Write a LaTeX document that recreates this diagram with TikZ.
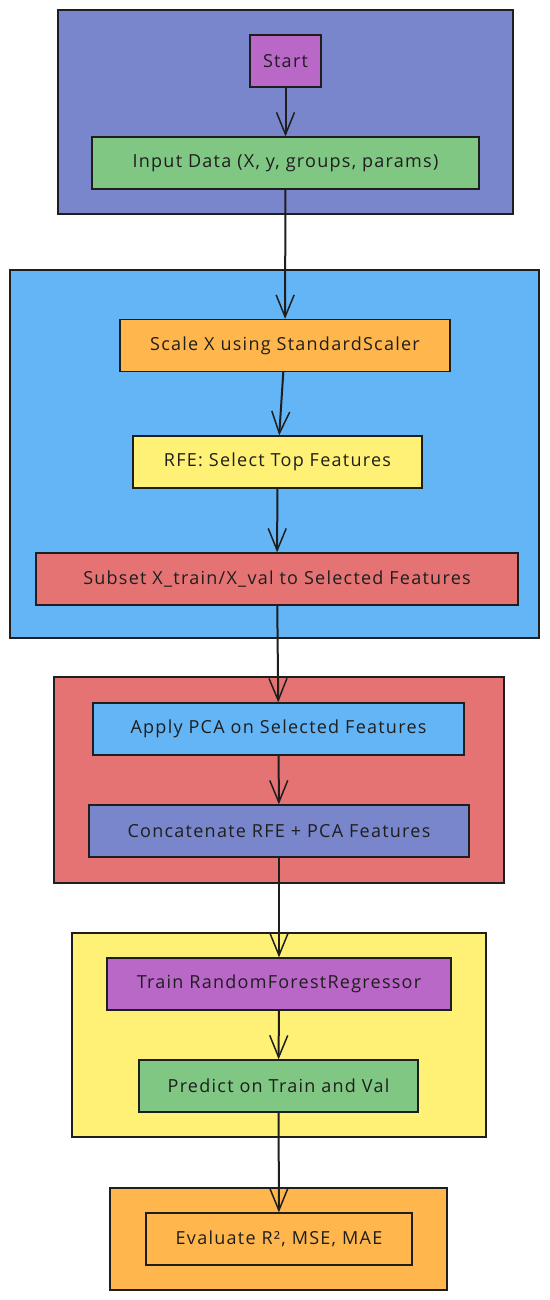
\documentclass[tikz,border=0pt]{standalone}
\usepackage{fontspec}
\setmainfont{Open Sans}
\definecolor{groupindigo}{HTML}{7986CB}
\definecolor{groupsky}{HTML}{64B5F6}
\definecolor{groupcoral}{HTML}{E57373}
\definecolor{grouplemon}{HTML}{FFF176}
\definecolor{grouporange}{HTML}{FFB74D}
\definecolor{stepviolet}{HTML}{BA68C8}
\definecolor{stepgreen}{HTML}{81C784}
\definecolor{inkdark}{HTML}{1E1E1E}
\usetikzlibrary{arrows.meta,positioning}
\tikzset{
    groupbox/.style={
        draw=inkdark,
        line width=1.3pt,
        inner sep=0pt
    },
    pipestep/.style={
        draw=inkdark,
        line width=1.3pt,
        minimum height=52pt,
        inner sep=0pt,
        align=center,
        text=inkdark,
        font=\fontsize{18}{21}\selectfont\addfontfeatures{LetterSpace=7}
    },
    pipearrow/.style={
        -{Straight Barb[length=22pt,width=18pt,line width=1.5pt]},
        draw=inkdark,
        line width=2pt
    }
}

\begin{document}
\begin{tikzpicture}[x=1pt,y=-1pt]
        \useasboundingbox (0,0) rectangle (549,1300);

        % stage groups
        \node[groupbox,fill=groupindigo,minimum width=455pt,minimum height=204pt]
            (inputGroup) at (285.5,112) {};
        \node[groupbox,fill=groupsky,minimum width=529pt,minimum height=368pt]
            (selectGroup) at (274.5,454) {};
        \node[groupbox,fill=groupcoral,minimum width=450pt,minimum height=206pt]
            (pcaGroup) at (279,780) {};
        \node[groupbox,fill=grouplemon,minimum width=414pt,minimum height=204pt]
            (modelGroup) at (279,1035) {};
        \node[groupbox,fill=grouporange,minimum width=337pt,minimum height=102pt]
            (evalGroup) at (278.5,1239) {};

        % steps
        \node[pipestep,fill=stepviolet,minimum width=71pt] (start) at (285.5,61) {Start};
        \node[pipestep,fill=stepgreen,minimum width=387pt] (inputData) at (285.5,163)
            {Input Data (X, y, groups, params)};
        \node[pipestep,fill=grouporange,minimum width=330pt] (scaleX) at (285,345.5)
            {Scale X using StandardScaler};
        \node[pipestep,fill=grouplemon,minimum width=289pt] (rfeSelect) at (277.5,462)
            {RFE: Select Top Features};
        \node[pipestep,fill=groupcoral,minimum width=482pt] (subsetX) at (277,579)
            {Subset X\_train/X\_val to Selected Features};
        \node[pipestep,fill=groupsky,minimum width=371pt] (applyPca) at (278.5,729)
            {Apply PCA on Selected Features};
        \node[pipestep,fill=groupindigo,minimum width=380pt] (concatFeat) at (279,831)
            {Concatenate RFE + PCA Features};
        \node[pipestep,fill=stepviolet,minimum width=344pt] (trainRf) at (279,984)
            {Train RandomForestRegressor};
        \node[pipestep,fill=stepgreen,minimum width=279pt] (predictSets) at (278.5,1086)
            {Predict on Train and Val};
        \node[pipestep,fill=grouporange,minimum width=266pt] (evaluate) at (279,1239)
            {Evaluate R², MSE, MAE};

        % flow
        \draw[pipearrow] (start) -- (inputData);
        \draw[pipearrow] (inputData) -- (scaleX);
        \draw[pipearrow] (scaleX) -- (rfeSelect);
        \draw[pipearrow] (rfeSelect) -- (subsetX);
        \draw[pipearrow] (subsetX) -- (applyPca);
        \draw[pipearrow] (applyPca) -- (concatFeat);
        \draw[pipearrow] (concatFeat) -- (trainRf);
        \draw[pipearrow] (trainRf) -- (predictSets);
        \draw[pipearrow] (predictSets) -- (evaluate);
    \end{tikzpicture}
\end{document}
